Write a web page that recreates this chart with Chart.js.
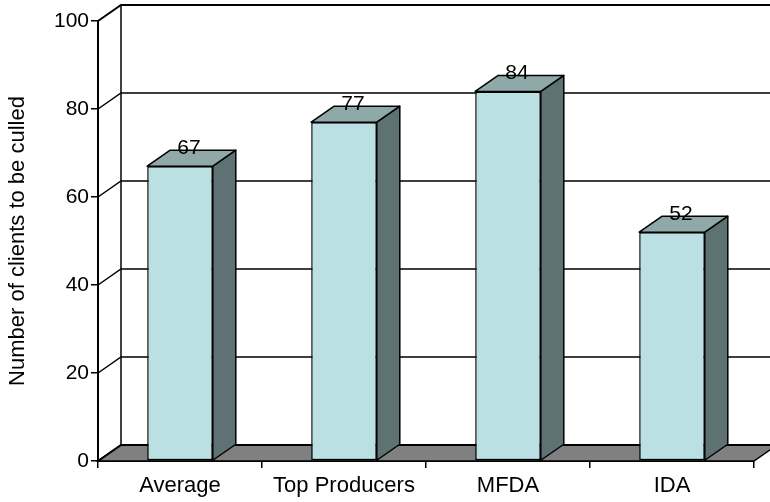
<!DOCTYPE html>
<html>
<head>
<meta charset="utf-8">
<script src="https://cdn.jsdelivr.net/npm/chart.js@4"></script>
<style>
  html, body { margin: 0; padding: 0; background: #fff; }
</style>
</head>
<body>
<canvas id="chart" width="770" height="502"></canvas>
<script>
// data
const categories = ["Average", "Top Producers", "MFDA", "IDA"];
const culled = [67, 77, 84, 52];
const yTicks = [0, 20, 40, 60, 80, 100];

// depth of the fake 3D box
const DX = 23, DY = -16;
const FONT = "'Liberation Sans', Arial, sans-serif";

const box3d = {
    id: "box3d",
    beforeDatasetsDraw(chart) {
        const { ctx, chartArea: a, scales: { y } } = chart;
        const y0 = y.getPixelForValue(0);
        const yTop = y.getPixelForValue(100);
        ctx.save();
        // floor
        ctx.beginPath();
        ctx.moveTo(a.left, y0);
        ctx.lineTo(a.right, y0);
        ctx.lineTo(a.right + DX, y0 + DY);
        ctx.lineTo(a.left + DX, y0 + DY);
        ctx.closePath();
        ctx.fillStyle = "#808080";
        ctx.fill();
        ctx.strokeStyle = "#000";
        ctx.lineWidth = 1.5;
        ctx.stroke();
        // gridlines on side + back wall
        yTicks.forEach(v => {
            const py = y.getPixelForValue(v);
            ctx.lineWidth = (v === 100 || v === 0) ? 2 : 1.5;
            ctx.beginPath();
            ctx.moveTo(a.left, py);
            ctx.lineTo(a.left + DX, py + DY);
            ctx.lineTo(a.right + DX, py + DY);
            ctx.stroke();
        });
        // back wall left edge
        ctx.lineWidth = 1.5;
        ctx.beginPath();
        ctx.moveTo(a.left + DX, yTop + DY);
        ctx.lineTo(a.left + DX, y0 + DY);
        ctx.stroke();
        ctx.restore();
    },
    afterDatasetsDraw(chart) {
        const { ctx } = chart;
        const meta = chart.getDatasetMeta(0);
        ctx.save();
        ctx.strokeStyle = "#000";
        ctx.lineWidth = 1.5;
        ctx.lineJoin = "round";
        meta.data.forEach((bar, i) => {
            const l = bar.x - bar.width / 2, r = bar.x + bar.width / 2;
            const t = bar.y, b = bar.base;
            // side face
            ctx.beginPath();
            ctx.moveTo(r, t);
            ctx.lineTo(r + DX, t + DY);
            ctx.lineTo(r + DX, b + DY);
            ctx.lineTo(r, b);
            ctx.closePath();
            ctx.fillStyle = "#5f7273";
            ctx.fill();
            ctx.stroke();
            // top face
            ctx.beginPath();
            ctx.moveTo(l, t);
            ctx.lineTo(l + DX, t + DY);
            ctx.lineTo(r + DX, t + DY);
            ctx.lineTo(r, t);
            ctx.closePath();
            ctx.fillStyle = "#8fa9a9";
            ctx.fill();
            ctx.stroke();
            // value label
            ctx.fillStyle = "#000";
            ctx.font = "21px " + FONT;
            ctx.textAlign = "center";
            ctx.textBaseline = "alphabetic";
            ctx.fillText(String(culled[i]), bar.x + 9, t - 12);
        });
        ctx.restore();
    }
};

new Chart(document.getElementById("chart"), {
    type: "bar",
    data: {
        labels: categories,
        datasets: [{
            data: culled,
            backgroundColor: "#bae0e3",
            borderColor: "#000",
            borderWidth: 1.5,
            borderSkipped: false,
            barPercentage: 0.4,
            categoryPercentage: 1
        }]
    },
    options: {
        responsive: false,
        animation: false,
        layout: { padding: { top: 21, right: 16, left: 0, bottom: 0 } },
        plugins: { legend: { display: false }, tooltip: { enabled: false } },
        scales: {
            x: {
                afterFit: s => { s.height = 41; },
                ticks: { color: "#000", font: { family: FONT, size: 22 }, padding: 5 },
                grid: { drawOnChartArea: false, tickLength: 7, color: "#000", lineWidth: 1.5, offset: true },
                border: { color: "#000", width: 2 }
            },
            y: {
                min: 0,
                max: 100,
                afterBuildTicks: s => { s.ticks = yTicks.map(v => ({ value: v })); },
                afterFit: s => { s.width = 98; },
                ticks: { color: "#000", font: { family: FONT, size: 21 }, padding: 2 },
                grid: { drawOnChartArea: false, tickLength: 7, color: "#000", lineWidth: 1.5 },
                border: { color: "#000", width: 2 },
                title: {
                    display: true,
                    text: "Number of clients to be culled",
                    color: "#000",
                    font: { family: FONT, size: 22 },
                    padding: { top: 5, bottom: 0 }
                }
            }
        }
    },
    plugins: [box3d]
});
</script>
</body>
</html>
